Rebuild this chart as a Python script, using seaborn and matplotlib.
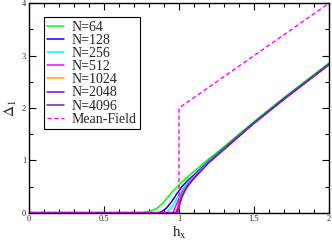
import matplotlib
matplotlib.use("Agg")
import matplotlib.pyplot as plt
import seaborn as sns
import pandas as pd
from matplotlib.ticker import MultipleLocator

# ---- data ----
h = [0.0, 0.7, 0.75, 0.8, 0.85, 0.87, 0.9, 0.92, 0.95, 0.96, 0.97, 0.98, 0.99,
     1.0, 1.01, 1.02, 1.04, 1.06, 1.08, 1.1, 1.15, 1.2, 1.3, 1.4, 1.5,
     1.6, 1.7, 1.8, 1.9, 2.0]

d_64 = [0, 0, 0.0, 0.02, 0.08, 0.12, 0.21, 0.28, 0.38, 0.41, 0.44, 0.47, 0.50,
        0.53, 0.56, 0.59, 0.64, 0.69, 0.74, 0.79, 0.91, 1.03, 1.26, 1.50, 1.74,
        1.97, 2.20, 2.42, 2.64, 2.86]
d_128 = [0, 0, 0, 0, 0.0, 0.0, 0.05, 0.10, 0.21, 0.25, 0.29, 0.34, 0.38,
         0.42, 0.46, 0.50, 0.56, 0.62, 0.67, 0.72, 0.86, 0.99, 1.23, 1.48, 1.72,
         1.95, 2.18, 2.40, 2.62, 2.84]
d_256 = [0, 0, 0, 0, 0, 0, 0.0, 0.0, 0.10, 0.14, 0.19, 0.24, 0.29,
         0.34, 0.39, 0.43, 0.51, 0.58, 0.64, 0.69, 0.84, 0.98, 1.22, 1.47, 1.71,
         1.94, 2.17, 2.39, 2.61, 2.83]
d_512 = [0, 0, 0, 0, 0, 0, 0, 0, 0.0, 0.0, 0.07, 0.14, 0.21,
         0.27, 0.33, 0.39, 0.47, 0.55, 0.61, 0.67, 0.83, 0.97, 1.22, 1.47, 1.71,
         1.94, 2.17, 2.39, 2.61, 2.83]
d_1024 = [0, 0, 0, 0, 0, 0, 0, 0, 0, 0, 0.0, 0.02, 0.12,
          0.20, 0.28, 0.35, 0.45, 0.53, 0.60, 0.66, 0.82, 0.96, 1.21, 1.46, 1.71,
          1.94, 2.17, 2.39, 2.61, 2.83]
d_2048 = [0, 0, 0, 0, 0, 0, 0, 0, 0, 0, 0, 0.0, 0.06,
          0.15, 0.24, 0.32, 0.43, 0.52, 0.59, 0.66, 0.81, 0.96, 1.21, 1.46, 1.71,
          1.94, 2.17, 2.39, 2.61, 2.83]
d_4096 = [0, 0, 0, 0, 0, 0, 0, 0, 0, 0, 0, 0, 0.0,
          0.10, 0.21, 0.30, 0.42, 0.51, 0.59, 0.65, 0.81, 0.96, 1.21, 1.46, 1.71,
          1.94, 2.17, 2.39, 2.61, 2.83]

mf_h = [0.0, 1.0, 1.0, 2.0]
mf_d = [0.0, 0.0, 2.0, 4.0]

labels = ["N=64", "N=128", "N=256", "N=512", "N=1024", "N=2048", "N=4096"]
series = [d_64, d_128, d_256, d_512, d_1024, d_2048, d_4096]
colors = ["#00ff00", "#0000ff", "#00ffff", "#ff00ff", "#ffa500", "#9400d3", "#7221bc"]

# ---- style ----
sns.set_style("ticks")
plt.rcParams["font.family"] = ["Liberation Serif", "DejaVu Serif"]
plt.rcParams["mathtext.fontset"] = "stix"

fig = plt.figure(figsize=(3.32, 2.45), dpi=100)
ax = fig.add_axes([29 / 332, 1 - 212.7 / 245, 300 / 332, 209.4 / 245])

for lab, d, c in zip(labels, series, colors):
    df = pd.DataFrame({"h": h, "d": d})
    sns.lineplot(data=df, x="h", y="d", ax=ax, color=c, lw=1.1, label=lab,
                 sort=False, estimator=None)
mf = pd.DataFrame({"h": mf_h, "d": mf_d})
sns.lineplot(data=mf, x="h", y="d", ax=ax, color="#ff00ff", lw=1.0,
             label="Mean-Field", sort=False, estimator=None,
             dashes=False, linestyle=(0, (3, 2)))

ax.set_xlim(0, 2)
ax.set_ylim(0, 4)
ax.xaxis.set_major_locator(MultipleLocator(0.5))
ax.xaxis.set_minor_locator(MultipleLocator(0.1))
ax.yaxis.set_major_locator(MultipleLocator(1))
ax.yaxis.set_minor_locator(MultipleLocator(0.5))
ax.set_xticks([0, 0.5, 1, 1.5, 2])
ax.set_xticklabels(["0", "0.5", "1", "1.5", "2"])
ax.set_yticks([0, 1, 2, 3, 4])
ax.set_yticklabels(["0", "1", "2", "3", "4"])
ax.tick_params(which="both", direction="in", top=True, right=True,
               labelsize=6, pad=2, width=0.8, color="black")
ax.tick_params(which="major", length=5)
ax.tick_params(which="minor", length=3)
for s in ax.spines.values():
    s.set_linewidth(1.0)
    s.set_color("black")

ax.set_xlabel(r"$\mathrm{h}_\mathrm{x}$", fontsize=11, labelpad=0)
ax.set_ylabel(r"$\Delta_1$", fontsize=11, labelpad=2)

leg = ax.legend(loc="upper left", bbox_to_anchor=(15 / 300, 1 - 14 / 209.4),
                fontsize=10, frameon=True, fancybox=False, handlelength=1.2,
                handletextpad=0.5, labelspacing=0.01, borderpad=0.25,
                borderaxespad=0)
leg.get_frame().set_edgecolor("black")
leg.get_frame().set_linewidth(0.8)
leg.get_frame().set_alpha(1)

fig.savefig("out.png", dpi=100)
